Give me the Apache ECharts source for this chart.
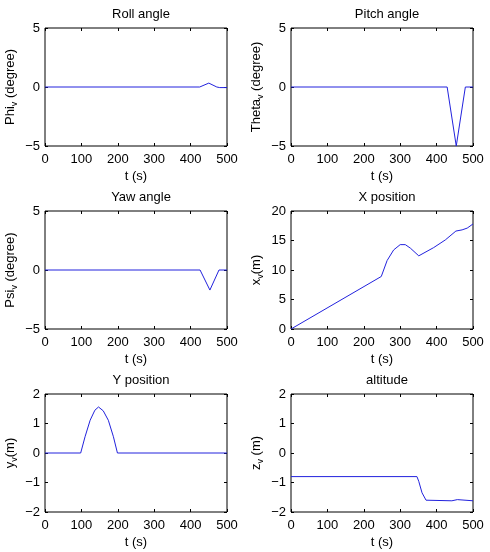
<!DOCTYPE html>
<html>
<head>
<meta charset="utf-8">
<title>Vehicle states</title>
<script src="https://cdn.jsdelivr.net/npm/echarts@6/dist/echarts.min.js"></script>
<style>
    html, body { margin: 0; padding: 0; background: #fff; }
    #chart { width: 490px; height: 552px; }
</style>
</head>
<body>
<div id="chart"></div>
<script>
// time ticks shared by every panel
var timeTicks = [0, 100, 200, 300, 400, 500]

// roll angle (degree)
var rollT = [0, 425, 450, 472, 480, 500]
var rollV = [0, 0, 0.33, 0, -0.05, -0.05]

// pitch angle (degree)
var pitchT = [0, 429, 454, 479, 500]
var pitchV = [0, 0, -5, 0, 0]

// yaw angle (degree)
var yawT = [0, 426, 453, 478, 500]
var yawV = [0, 0, -1.7, 0, 0]

// x position (m)
var xT = [0, 248, 264, 282, 300, 314, 328, 351, 392, 424, 453, 470, 484, 500]
var xV = [0, 8.9, 11.6, 13.4, 14.3, 14.3, 13.7, 12.4, 13.8, 15.1, 16.6, 16.8, 17.1, 17.8]

// y position (m)
var yT = [0, 98, 110, 124, 137, 147, 160, 174, 188, 199, 500]
var yV = [0, 0, 0.55, 1.11, 1.45, 1.56, 1.43, 1.11, 0.55, 0, 0]

// altitude (m)
var zT = [0, 346, 351, 360, 371, 442, 447, 457, 462, 500]
var zV = [-0.8, -0.8, -0.96, -1.35, -1.6, -1.62, -1.58, -1.58, -1.62, -1.62]

var font = '"Liberation Sans", Arial, Helvetica, sans-serif'
var lineColor = '#2222dd'

var panels = [
    {title: 'Roll angle', name: ['Phi', 'v', ' (degree)'], t: rollT, v: rollV, min: -5, max: 5, step: 5, left: 45, top: 28},
    {title: 'Pitch angle', name: ['Theta', 'v', ' (degree)'], t: pitchT, v: pitchV, min: -5, max: 5, step: 5, left: 291, top: 28},
    {title: 'Yaw angle', name: ['Psi', 'v', ' (degree)'], t: yawT, v: yawV, min: -5, max: 5, step: 5, left: 45, top: 211},
    {title: 'X position', name: ['x', 'v', '(m)'], t: xT, v: xV, min: 0, max: 20, step: 5, left: 291, top: 211},
    {title: 'Y position', name: ['y', 'v', '(m)'], t: yT, v: yV, min: -2, max: 2, step: 1, left: 45, top: 394},
    {title: 'altitude', name: ['z', 'v', ' (m)'], t: zT, v: zV, min: -2, max: 2, step: 1, left: 291, top: 394}
]

function minus(v) {
    return String(v).replace('-', '\u2212')
}

var grids = [], xAxes = [], yAxes = [], series = [], titles = []
panels.forEach(function(p, i){
    grids.push({left: p.left, top: p.top, width: 182, height: 118,
        show: true, borderColor: '#000', borderWidth: 1, backgroundColor: '#fff'})
    titles.push({text: p.title, left: p.left + 91, top: p.top - 25, textAlign: 'center',
        textStyle: {fontSize: 13, fontWeight: 'normal', color: '#000', fontFamily: font}})

    var tick = {show: true, inside: true, length: 3, lineStyle: {color: '#000'}}
    var noLine = {show: false, onZero: false}
    xAxes.push({type: 'value', gridIndex: i, min: 0, max: 500, interval: 100, position: 'bottom',
        axisLine: noLine, axisTick: tick, splitLine: {show: false},
        axisLabel: {color: '#000', fontSize: 13, fontFamily: font, margin: 7,
            customValues: timeTicks, formatter: minus},
        name: 't (s)', nameLocation: 'middle', nameGap: 24,
        nameTextStyle: {color: '#000', fontSize: 13, fontFamily: font}})
    xAxes.push({type: 'value', gridIndex: i, min: 0, max: 500, interval: 100, position: 'top',
        axisLine: noLine, axisTick: tick, axisLabel: {show: false}, splitLine: {show: false}})
    yAxes.push({type: 'value', gridIndex: i, min: p.min, max: p.max, interval: p.step, position: 'left',
        axisLine: noLine, axisTick: tick, splitLine: {show: false},
        axisLabel: {color: '#000', fontSize: 13, fontFamily: font, margin: 5, formatter: minus},
        name: '{a|' + p.name[0] + '}{s|' + p.name[1] + '}{a|' + p.name[2] + '}',
        nameLocation: 'middle', nameRotate: 90, nameGap: 26,
        nameTextStyle: {color: '#000', fontFamily: font,
            rich: {
                a: {fontSize: 13, color: '#000', fontFamily: font, lineHeight: 17},
                s: {fontSize: 9, color: '#000', fontFamily: font, lineHeight: 10, verticalAlign: 'bottom'}
            }}})
    yAxes.push({type: 'value', gridIndex: i, min: p.min, max: p.max, interval: p.step, position: 'right',
        axisLine: noLine, axisTick: tick, axisLabel: {show: false}, splitLine: {show: false}})

    var pts = p.t.map(function(t, k){ return [t, p.v[k]] })
    series.push({type: 'line', xAxisIndex: 2 * i, yAxisIndex: 2 * i, data: pts,
        showSymbol: false, symbol: 'none', silent: true, animation: false,
        lineStyle: {color: lineColor, width: 1}})
})

var chart = echarts.init(document.getElementById('chart'))
chart.setOption({
    animation: false,
    backgroundColor: '#fff',
    title: titles,
    grid: grids,
    xAxis: xAxes,
    yAxis: yAxes,
    series: series
})
</script>
</body>
</html>
